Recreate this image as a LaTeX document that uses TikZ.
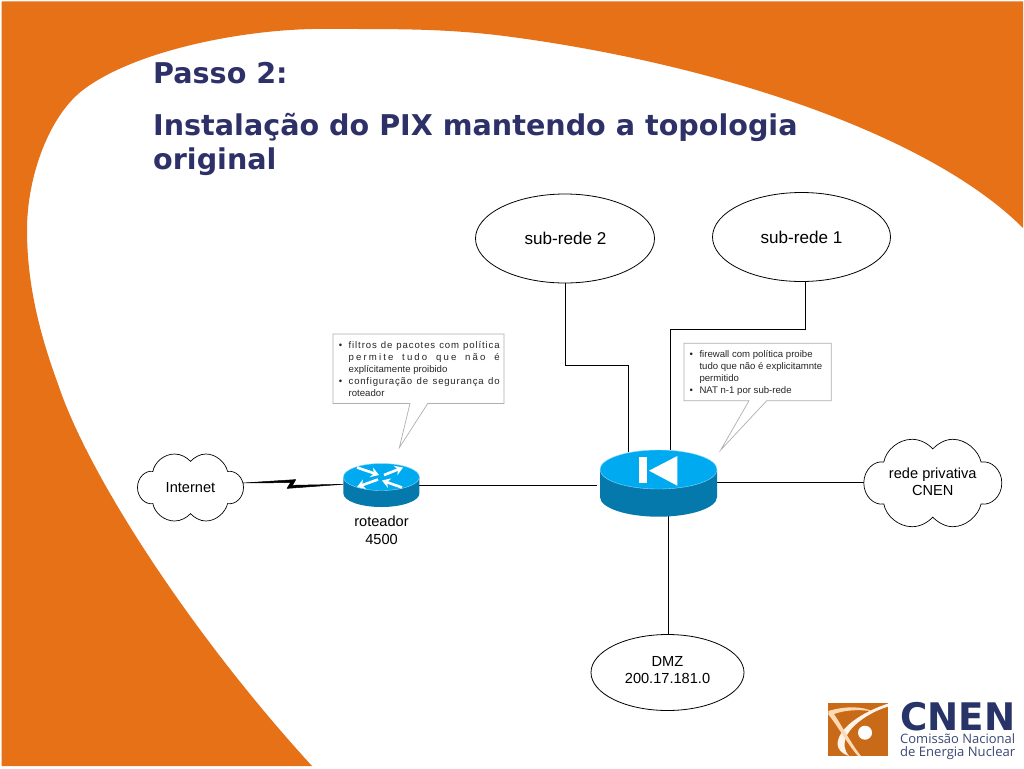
\documentclass[tikz,border=0pt]{standalone}
\usepackage{fontspec}
\setmainfont{Liberation Sans}
\newfontfamily\titlefont{DejaVu Sans}
\newfontfamily\logofont{Open Sans}
\usetikzlibrary{arrows.meta,shapes.geometric,calc}
\definecolor{cnenorange}{RGB}{230,113,23}
\definecolor{titleblue}{RGB}{46,49,104}
\definecolor{logoblue}{RGB}{40,52,104}
\definecolor{logotext}{RGB}{60,72,115}
\definecolor{logoorange}{RGB}{201,106,24}
\definecolor{icontop}{RGB}{0,170,240}
\definecolor{iconside}{RGB}{5,120,172}
\definecolor{calloutgray}{RGB}{175,175,175}
\newcommand{\fitline}[2]{{\addfontfeature{LetterSpace=#1}\makebox[151pt][s]{#2}}}
\newcommand{\bul}{\llap{\textbullet\hspace{6.5pt}}}
\newcommand{\cnencloud}[4]{%
  \draw[cloudline,shift={(#1,#2)},x=#3pt,y=#4pt]
  (-1,0) .. controls (-1,-0.3) and (-0.85,-0.52) .. (-0.71,-0.48)
  .. controls (-0.68,-0.75) and (-0.5,-1) .. (-0.30,-1)
  .. controls (-0.18,-1) and (-0.07,-0.9) .. (0,-0.78)
  .. controls (0.07,-0.9) and (0.18,-1) .. (0.29,-1)
  .. controls (0.48,-1) and (0.66,-0.75) .. (0.70,-0.48)
  .. controls (0.85,-0.52) and (1,-0.3) .. (1,0)
  .. controls (1,0.3) and (0.85,0.52) .. (0.70,0.48)
  .. controls (0.66,0.75) and (0.48,1) .. (0.29,1)
  .. controls (0.18,1) and (0.07,0.9) .. (0,0.78)
  .. controls (-0.07,0.9) and (-0.18,1) .. (-0.30,1)
  .. controls (-0.5,1) and (-0.68,0.75) .. (-0.71,0.48)
  .. controls (-0.85,0.52) and (-1,0.3) .. (-1,0) -- cycle;}
\tikzset{
  cloudline/.style={draw=black,fill=white,line width=0.7pt},
  netellipse/.style={ellipse,draw=black,fill=white,line width=0.8pt,inner sep=0pt,align=center},
  link/.style={draw=black,line width=0.9pt},
  lbl/.style={inner sep=0pt,align=center,font=\fontsize{14.6}{17.5}\selectfont},
  bigl/.style={inner sep=0pt,align=center,font=\fontsize{17.1}{20}\selectfont},
  callout/.style={draw=calloutgray,fill=white,line width=0.7pt},
  callouttext/.style={inner sep=0pt,anchor=north west,align=left,text=black!85,font=\fontsize{9.6}{12}\selectfont},
  titletext/.style={inner sep=0pt,anchor=north west,align=left,text=titleblue,font=\titlefont\bfseries\fontsize{28.6}{34}\selectfont},
  xarrow/.style={draw=white,line width=2.6pt,-{Stealth[length=8pt,width=10pt]}}
}
\begin{document}
\begin{tikzpicture}[x=1pt,y=-1pt]
\useasboundingbox (0,0) rectangle (1024,768);
\fill[white] (0,0) rectangle (1024,768);
% background
\fill[cnenorange] (1.5,1.5) -- (1023,1.5) -- (1023,228)
 .. controls (930,135) and (720,65) .. (512,37)
 .. controls (450,28.6) and (400,29) .. (333,29)
 .. controls (250,27) and (135,50) .. (83,90)
 .. controls (50,115) and (27,175) .. (27,230)
 .. controls (27,285) and (40,335) .. (58,384)
 .. controls (88,475) and (192,635) .. (312,766)
 -- (1.5,766) -- cycle;
% titles
\node[titletext] (passo) at (153,62) {Passo 2:};
\node[titletext] (titulo) at (153,113) {Instalação do PIX mantendo a topologia\\original};
% ellipses
\node[netellipse,minimum width=179pt,minimum height=89pt] (sr2) at (565,238.5) {};
\node[bigl] (sr2t) at (565.5,238.5) {sub-rede 2};
\node[netellipse,minimum width=178pt,minimum height=89pt] (sr1) at (801.5,237) {};
\node[bigl] (sr1t) at (801.5,237) {sub-rede 1};
\node[netellipse,minimum width=153pt,minimum height=76pt] (dmz) at (667.5,672.5) {};
\node[lbl] (dmzt) at (667.5,670) {DMZ\\200.17.181.0};
% named connector ends
\coordinate (sr1b) at (805,281);
\coordinate (pixA) at (628.5,452);
\coordinate (pixB) at (670,450);
\coordinate (pixL) at (597,485.5);
\coordinate (pixR) at (717,482);
\coordinate (pixD) at (668,516);
\coordinate (dmzU) at (668,634);
\coordinate (rtR) at (419,485.5);
\coordinate (rtL) at (343,484.3);
\coordinate (cloudR) at (243,483);
\coordinate (cloudP) at (864,482);
% connectors
\draw[link] (sr2.south) -- (sr2.south |- 0,365) -- (pixA |- 0,365) -- (pixA);
\draw[link] (sr1b) -- (sr1b |- 0,329.5) -- (pixB |- 0,329.5) -- (pixB);
\draw[link] (rtR) -- (pixL);
\draw[link] (pixR) -- (cloudP);
\draw[link] (pixD) -- (dmzU);
% lightning
\filldraw[black,line width=0.5pt,line join=round] (cloudR) -- (295.7,479.6) -- (292.5,485.3) -- (rtL) -- (287,488.4) -- (290.6,482.6) -- cycle;
% clouds
\cnencloud{190.5}{487.5}{53}{33.5}
\node[lbl] (internet) at (190.5,487.5) {Internet};
\cnencloud{932.8}{483}{69}{43.7}
\node[lbl] (privada) at (932.8,482) {rede privativa\\CNEN};
% router
\fill[iconside] (343.4,477) -- (343.4,493.5) arc[start angle=180,end angle=0,x radius=38,y radius=13.5] -- (419.4,477) -- cycle;
\fill[icontop,draw=icontop!45!white,line width=0.4pt] (381.4,477) ellipse[x radius=38,y radius=13.5];
\draw[xarrow] (357,467.5) -- (379,475);
\draw[xarrow] (384,475) -- (403,467.5);
\draw[xarrow] (402,487.5) -- (382,480.5);
\draw[xarrow] (378,479.5) -- (357,487);
\node[lbl] (roteador) at (381.5,530.5) {roteador\\4500};
% pix
\fill[iconside] (600,469.5) -- (600,497) arc[start angle=180,end angle=0,x radius=58.5,y radius=19.7] -- (717,469.5) -- cycle;
\fill[icontop,draw=icontop!45!white,line width=0.4pt] (658.5,469.5) ellipse[x radius=58.5,y radius=19.5];
\fill[white] (639.3,456.7) rectangle (647.3,482.7);
\fill[white] (649,470.7) -- (677.3,456) -- (677.3,485.7) -- cycle;
% callouts
\draw[callout] (333,334) -- (504,334) -- (504,403.5) -- (427.7,403.5) -- (399.3,447.7) -- (410,403.5) -- (333,403.5) -- cycle;
\node[callouttext] (txt1) at (348.5,341) {\bul\fitline{9}{filtros de pacotes com política}\\
\fitline{22}{permite tudo que não é}\\
explícitamente proibido\\
\bul\fitline{8}{configuração de segurança do}\\
roteador};
\draw[callout] (684,343.3) -- (831.3,343.3) -- (831.3,400.7) -- (766.7,400.7) -- (720.7,450) -- (749,400.7) -- (684,400.7) -- cycle;
\node[callouttext] (txt2) at (699.3,350) {\bul firewall com política proibe\\
tudo que não é explicitamnte\\
permitido\\
\bul NAT n-1 por sub-rede};
% logo
\fill[logoorange] (828.3,702.7) rectangle (888.3,756);
\fill[white!92!orange] (888.3,703.5) .. controls (862,712) and (838,728) .. (837.5,744) .. controls (837.5,749) and (842,754) .. (849,756) .. controls (844,750) and (843,744) .. (847,735) .. controls (853,724) and (870,712) .. (888.3,706.5) -- cycle;
\fill[white!70!orange] (828.3,711) .. controls (845,706) and (862,706) .. (873,711.5) .. controls (860,709) and (845,710) .. (834,714) .. controls (842,726) and (852,745) .. (861,756) -- (858,756) .. controls (848,745) and (838,726) .. (828.3,714.5) -- cycle;
\fill[white] (865,732.7) circle[radius=7];
\node[inner sep=0pt,anchor=south west,text=logoblue] (cnen) at (900,731.2) {\resizebox{115pt}{28.2pt}{\titlefont\bfseries CNEN}};
\node[inner sep=0pt,anchor=base west,text=logotext] (cnen1) at (900,743) {\resizebox{115pt}{!}{\logofont Comissão Nacional}};
\node[inner sep=0pt,anchor=base west,text=logotext] (cnen2) at (900,756.5) {\resizebox{115pt}{!}{\logofont de Energia Nuclear}};
\end{tikzpicture}
\end{document}
